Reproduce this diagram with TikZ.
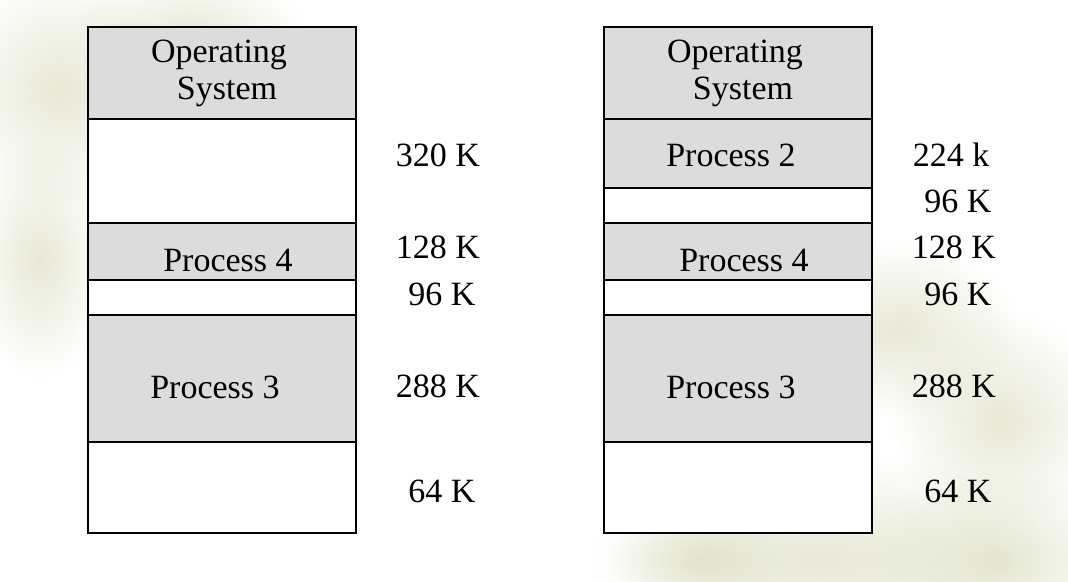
\documentclass[tikz,border=0pt]{standalone}
\usepackage{fontspec}
\setmainfont{Liberation Serif}
\usetikzlibrary{fadings}
\definecolor{cellgray}{RGB}{220,220,220}
\definecolor{leaf}{RGB}{212,214,178}
\tikzfading[name=softedge, inner color=transparent!0, outer color=transparent!100]
\tikzset{
  cell/.style={draw=black, line width=1.6pt, minimum width=268pt, inner sep=0pt, anchor=north west},
  used/.style={cell, fill=cellgray},
  free/.style={cell, fill=white},
  txt/.style={font=\fontsize{34}{38}\selectfont, inner sep=0pt, anchor=base},
  blob/.style={fill=leaf, path fading=softedge, opacity=0.55}
}
\begin{document}
\begin{tikzpicture}[x=1pt,y=-1pt]
\useasboundingbox (0,0) rectangle (1068,581);
\fill[white] (0,0) rectangle (1068,581);
% soft leaves in the background
\fill[blob] (60,90) ellipse (110 and 120);
\fill[blob] (190,40) ellipse (120 and 70);
\fill[blob] (40,260) ellipse (70 and 120);
\fill[blob] (900,330) ellipse (120 and 90);
\fill[blob] (1000,420) ellipse (110 and 110);
\fill[blob] (820,560) ellipse (230 and 110);
\fill[blob] (1000,560) ellipse (140 and 90);
\fill[blob] (700,560) ellipse (90 and 50);

% left memory map
\node[used, minimum height=92pt]  (la) at (87,26)  {};
\node[free, minimum height=104pt] (lb) at (87,118) {};
\node[used, minimum height=57pt]  (lc) at (87,222) {};
\node[free, minimum height=35pt]  (ld) at (87,279) {};
\node[used, minimum height=127pt] (le) at (87,314) {};
\node[free, minimum height=91pt]  (lf) at (87,441) {};

\node[txt] (los1) at (219,62)  {Operating};
\node[txt] (los2) at (227,99)  {System};
\node[txt] (lp4)  at (228,271) {Process 4};
\node[txt] (lp3)  at (215,398) {Process 3};

\node[txt] (ls1) at (438,166) {320 K};
\node[txt] (ls2) at (438,258) {128 K};
\node[txt] (ls3) at (442,305) {96 K};
\node[txt] (ls4) at (438,397) {288 K};
\node[txt] (ls5) at (442,502) {64 K};

% right memory map
\node[used, minimum height=92pt]  (ra) at (603,26)  {};
\node[used, minimum height=69pt]  (rb) at (603,118) {};
\node[free, minimum height=35pt]  (rg) at (603,187) {};
\node[used, minimum height=57pt]  (rc) at (603,222) {};
\node[free, minimum height=35pt]  (rd) at (603,279) {};
\node[used, minimum height=127pt] (re) at (603,314) {};
\node[free, minimum height=91pt]  (rf) at (603,441) {};

\node[txt] (ros1) at (735,62)  {Operating};
\node[txt] (ros2) at (743,99)  {System};
\node[txt] (rp2)  at (731,166) {Process 2};
\node[txt] (rp4)  at (744,271) {Process 4};
\node[txt] (rp3)  at (731,398) {Process 3};

\node[txt] (rs0) at (951,166) {224 k};
\node[txt] (rs1) at (958,212) {96 K};
\node[txt] (rs2) at (954,258) {128 K};
\node[txt] (rs3) at (958,305) {96 K};
\node[txt] (rs4) at (954,397) {288 K};
\node[txt] (rs5) at (958,502) {64 K};
\end{tikzpicture}
\end{document}
